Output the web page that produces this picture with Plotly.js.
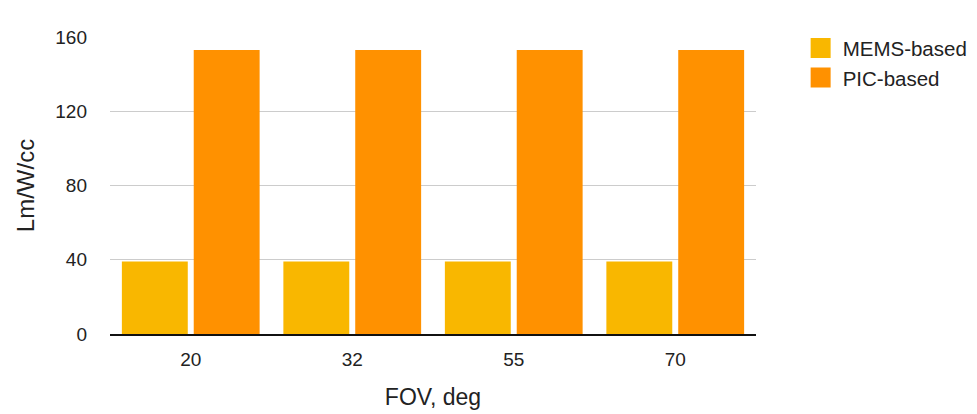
<!DOCTYPE html>
<html>
<head>
<meta charset="utf-8">
<script src="https://cdn.plot.ly/plotly-3.0.1.min.js"></script>
<style>
  html, body { margin: 0; padding: 0; background: #fff; }
  #chart { width: 977px; height: 414px; }
</style>
</head>
<body>
<div id="chart"></div>
<script>
/* FOV vs luminous efficiency per volume, MEMS vs PIC */

const FOV_LABELS = ['20', '32', '55', '70'];
const MEMS_VALUES = [39, 39, 39, 39];
const PIC_VALUES = [153, 153, 153, 153];

const SERIES = [
    { name: 'MEMS-based', values: MEMS_VALUES, color: '#F9B700' },
    { name: 'PIC-based', values: PIC_VALUES, color: '#FF9100' },
];

const FONT = 'Liberation Sans, Arial, Helvetica, sans-serif';

// bars carry the data, legend entries are empty square-marker traces
// so the legend swatches come out bigger than plotly's bar symbol
const bars = SERIES.map(s => ({
    type: 'bar',
    name: s.name,
    x: FOV_LABELS,
    y: s.values,
    marker: { color: s.color },
    showlegend: false,
    hoverinfo: 'skip',
}));

const legendItems = SERIES.map(s => ({
    type: 'scatter',
    mode: 'markers',
    name: s.name,
    x: [FOV_LABELS[0]],
    y: [null],
    marker: { symbol: 'square', size: 16, color: s.color, line: { color: s.color, width: 4 } },
    hoverinfo: 'skip',
}));

const layout = {
    width: 977,
    height: 414,
    margin: { l: 110, r: 221, t: 37, b: 79.5, autoexpand: false },
    paper_bgcolor: '#fff',
    plot_bgcolor: '#fff',
    font: { family: FONT, color: '#222', size: 19 },
    barmode: 'group',
    bargap: 0.11,
    bargroupgap: 0.083,
    showlegend: true,
    legend: {
        x: 1.066, xanchor: 'left',
        y: 1.03, yanchor: 'top',
        font: { family: FONT, size: 20.5, color: '#222' },
        tracegroupgap: 0,
        itemwidth: 34,
    },
    xaxis: {
        type: 'category',
        showgrid: false,
        showline: true,
        linecolor: '#111',
        linewidth: 2,
        ticks: '',
        ticklabelstandoff: 7,
        tickfont: { family: FONT, size: 19, color: '#222' },
        title: { text: 'FOV, deg', font: { family: FONT, size: 23, color: '#222' }, standoff: 20 },
        fixedrange: true,
    },
    yaxis: {
        range: [0, 160],
        tickvals: [0, 40, 80, 120, 160],
        ticktext: ['0', '40', '80', '120', '160'],
        showgrid: true,
        gridcolor: '#cccccc',
        gridwidth: 1,
        zeroline: false,
        showline: false,
        ticks: '',
        ticklabelstandoff: 22,
        tickfont: { family: FONT, size: 19, color: '#222' },
        title: { text: 'Lm/W/cc', font: { family: FONT, size: 24, color: '#222' }, standoff: 13 },
        fixedrange: true,
    },
};

Plotly.newPlot('chart', bars.concat(legendItems), layout, { displayModeBar: false, staticPlot: true });
</script>
</body>
</html>
